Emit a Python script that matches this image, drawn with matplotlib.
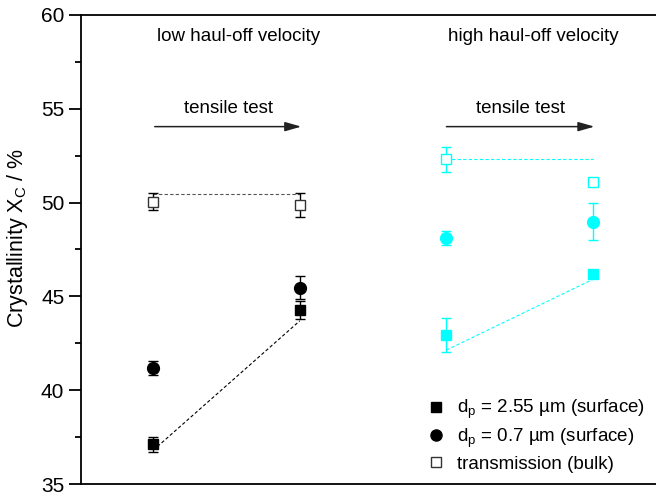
import matplotlib
matplotlib.use("Agg")
import matplotlib.pyplot as plt
from matplotlib.lines import Line2D

plt.rcParams['font.family'] = ['Liberation Sans', 'DejaVu Sans']
plt.rcParams['mathtext.default'] = 'regular'

CYAN = '#00FFFF'

# x positions: low velocity (before/after tensile test), high velocity (before/after)
x_low = [1, 2]
x_high = [3, 4]

# d_p = 2.55 um (surface)
sq_low, sq_low_err = [37.12, 44.28], [0.40, 0.46]
sq_high, sq_high_err = [42.94, 46.19], [0.90, 0.0]
# d_p = 0.7 um (surface)
ci_low, ci_low_err = [41.18, 45.47], [0.38, 0.62]
ci_high, ci_high_err = [48.13, 48.98], [0.37, 1.00]
# transmission (bulk)
tr_low, tr_low_err = [50.05, 49.87], [0.45, 0.64]
tr_high, tr_high_err = [52.31, 51.12], [0.68, 0.0]

# dashed guide lines
guide_sq_low = [36.8, 43.7]
guide_tr_low = [50.45, 50.45]
guide_tr_high = [52.31, 52.31]
guide_sq_high = [42.14, 45.91]

fig = plt.figure(figsize=(6.56, 4.95), dpi=100)
ax = fig.add_axes([81/656, 11/495, 575/656, 469/495])

dash = (0, (3, 2))
ax.plot(x_low, guide_sq_low, color='black', lw=0.8, ls=dash)
ax.plot(x_low, guide_tr_low, color='#555555', lw=0.8, ls=dash)
ax.plot(x_high, guide_tr_high, color=CYAN, lw=0.8, ls=dash)
ax.plot(x_high, guide_sq_high, color=CYAN, lw=0.8, ls=dash)

def pts(x, y, e, marker, color, filled, ms):
    edge = color if (filled or color != 'black') else '#333333'
    ax.errorbar(x, y, yerr=e, fmt=marker, ms=ms, color=color, ecolor=color,
                mfc=color if filled else 'white', mec=edge,
                elinewidth=1, capsize=3.5, capthick=1, zorder=3)

pts(x_low, sq_low, sq_low_err, 's', 'black', True, 7)
pts(x_low, ci_low, ci_low_err, 'o', 'black', True, 8.5)
pts(x_low, tr_low, tr_low_err, 's', 'black', False, 7)
pts(x_high, sq_high, sq_high_err, 's', CYAN, True, 7)
pts(x_high, ci_high, ci_high_err, 'o', CYAN, True, 8.5)
pts(x_high, tr_high, tr_high_err, 's', CYAN, False, 7)

# arrows and annotations
for x0, x1 in [(x_low[0] + 0.01, x_low[1] + 0.01), (x_high[0], x_high[1] + 0.01)]:
    ax.annotate('', xy=(x1, 54.05), xytext=(x0, 54.05),
                arrowprops=dict(arrowstyle='-|>,head_length=0.7,head_width=0.2',
                                color='#222222', lw=1.1, mutation_scale=14,
                                shrinkA=0, shrinkB=0))
    ax.text((x0 + x1) / 2, 54.55, 'tensile test', ha='center', va='bottom', fontsize=13.5)

ax.text(1.58, 58.85, 'low haul-off velocity', ha='center', va='center', fontsize=13.5)
ax.text(3.59, 58.85, 'high haul-off velocity', ha='center', va='center', fontsize=13.5)

handles = [
    Line2D([], [], ls='none', marker='s', color='black', ms=7),
    Line2D([], [], ls='none', marker='o', color='black', ms=8),
    Line2D([], [], ls='none', marker='s', mfc='white', mec='#333333', ms=7),
]
labels = ['d$_p$ = 2.55 µm (surface)', 'd$_p$ = 0.7 µm (surface)', 'transmission (bulk)']
ax.legend(handles, labels, loc='lower right', frameon=False, fontsize=13.5,
          handletextpad=0.3, labelspacing=0.3, borderaxespad=0.2,
          handlelength=1.6, bbox_to_anchor=(1.0, 0.0))

ax.set_xlim(0.507, 4.43)
ax.set_ylim(35, 60)
ax.set_yticks([35, 40, 45, 50, 55, 60])
ax.set_yticks([37.5, 42.5, 47.5, 52.5, 57.5], minor=True)
ax.set_xticks([])
ax.tick_params(axis='y', labelsize=15, width=1.3, length=9, direction='out', pad=3)
ax.tick_params(axis='y', which='minor', width=1.3, length=4)
ax.spines['right'].set_visible(False)
for s in ['left', 'top', 'bottom']:
    ax.spines[s].set_linewidth(1.3)
ax.set_ylabel('Crystallinity X$_C$ / %', fontsize=15.5, va='center')
ax.yaxis.set_label_coords(-0.1096, 0.525)

fig.savefig('out.png', dpi=100)
